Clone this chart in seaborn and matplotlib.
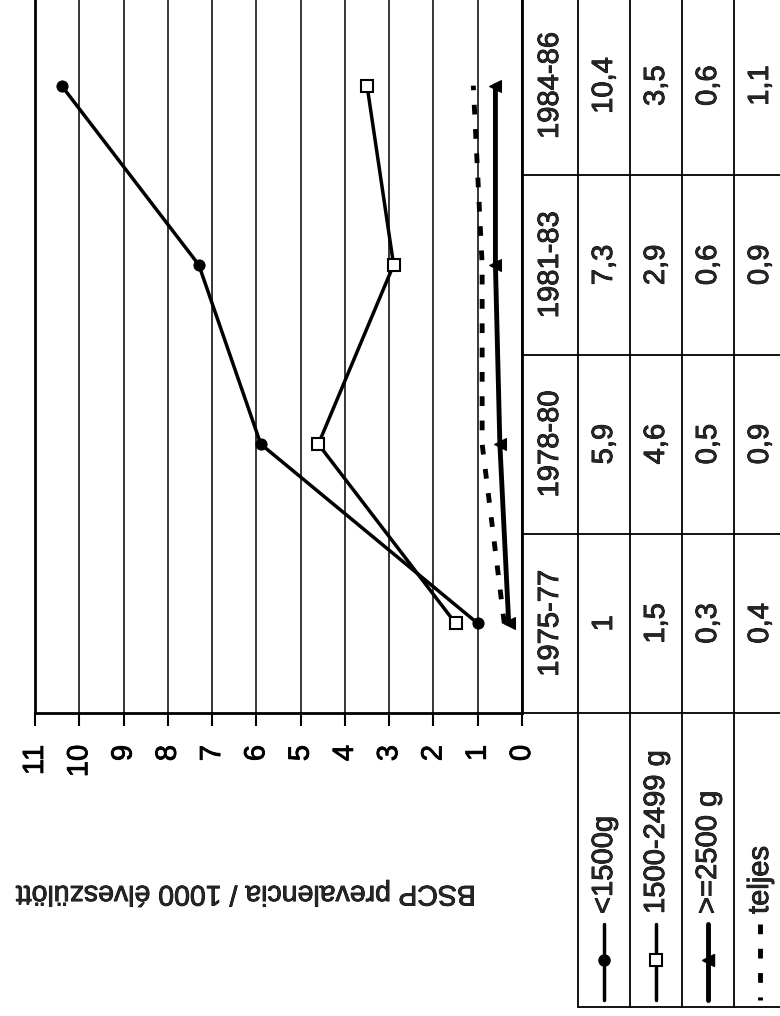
import matplotlib
matplotlib.use('Agg')
import matplotlib.pyplot as plt
import matplotlib.transforms as mtransforms
import matplotlib.patheffects as pe
import numpy as np
import pandas as pd
import seaborn as sns

# Adatok (a kép 90 fokkal elforgatott Excel-diagram)
idoszakok = ['1975-77', '1978-80', '1981-83', '1984-86']
sorozatok = ['<1500g', '1500-2499 g', '>=2500 g', 'teljes']
ertek_1500 = [1.0, 5.9, 7.3, 10.4]
ertek_1500_2499 = [1.5, 4.6, 2.9, 3.5]
ertek_2500 = [0.3, 0.5, 0.6, 0.6]
ertek_teljes = [0.4, 0.9, 0.9, 1.1]
tengely_tickek = list(range(0, 12))
y_cim = 'BSCP prevalencia / 1000 élveszülött'

sns.set_style('white')
plt.rcParams['font.family'] = ['Liberation Sans', 'DejaVu Sans']

# a beszkennelt szöveg kicsit vastagabb
vastag = [pe.withStroke(linewidth=0.6, foreground='black')]

df = pd.DataFrame({
    'Idoszak': idoszakok * 4,
    'Pozicio': list(range(len(idoszakok))) * 4,
    'Sorozat': np.repeat(sorozatok, len(idoszakok)),
    'Ertek': ertek_1500 + ertek_1500_2499 + ertek_2500 + ertek_teljes,
})

stilusok = {
    '<1500g': dict(marker='o', markersize=8, markerfacecolor='black', markeredgecolor='black',
                   linewidth=2.5, linestyle='-'),
    '1500-2499 g': dict(marker='s', markersize=8.5, markerfacecolor='white', markeredgecolor='black',
                        markeredgewidth=1.5, linewidth=2.5, linestyle='-'),
    '>=2500 g': dict(marker='<', markersize=8, markerfacecolor='black', markeredgecolor='black',
                     linewidth=3.5, linestyle='-'),
    'teljes': dict(marker=None, linewidth=3.5, linestyle=(0, (2, 3))),
}

W, H = 780, 1016
fig = plt.figure(figsize=(W / 100, H / 100), dpi=100)

# elrendezés pixelben
bal, jobb, fent, lent = 35, 522, -4, 713
ax = fig.add_axes([bal / W, (H - lent) / H, (jobb - bal) / W, (lent - fent) / H])

for nev in sorozatok:
    d = df[df['Sorozat'] == nev]
    st = stilusok[nev]
    sns.lineplot(data=d, x='Ertek', y='Pozicio', orient='y', color='black', ax=ax,
                 dashes=False, **{k: v for k, v in st.items() if k != 'linestyle'})
    ax.lines[-1].set_linestyle(st['linestyle'])
    if st['linestyle'] != '-':
        ax.lines[-1].set_dash_capstyle('butt')

ax.set_xlim(11, 0)
ax.set_ylim(-0.5, len(idoszakok) - 0.5)
ax.set_xticks(tengely_tickek)
ax.set_xticklabels([str(t) for t in tengely_tickek])
ax.set_yticks([])
ax.set_xlabel('')
ax.set_ylabel('')
ax.grid(axis='x', color='black', linewidth=1.1)
ax.grid(axis='y', visible=False)
for s in ['left', 'right', 'bottom', 'top']:
    ax.spines[s].set_color('black')
    ax.spines[s].set_linewidth(2)
ax.tick_params(axis='x', direction='out', length=9, width=1.5, pad=14,
               labelsize=21, labelrotation=90, bottom=True, colors='black')
for lbl in ax.get_xticklabels():
    lbl.set_path_effects(vastag)
if ax.get_legend():
    ax.get_legend().remove()

# overlay pixel koordinátákban a táblázathoz
ax_t = fig.add_axes([0, 0, 1, 1])
ax_t.set_xlim(0, W)
ax_t.set_ylim(H, 0)
ax_t.axis('off')
ax_t.patch.set_alpha(0)
trans = mtransforms.blended_transform_factory(ax_t.transData, ax.transData)

oszlopok = [522, 578, 630, 682, 734, 786]
vonal = dict(color='black', linewidth=1.3)

# sorhatárok a kategóriák között
for i in range(len(idoszakok) + 1):
    ax_t.plot([oszlopok[0], W], [i - 0.5, i - 0.5], transform=trans, **vonal)
for xo in oszlopok[1:]:
    ax_t.plot([xo, xo], [-0.5, len(idoszakok) - 0.5], transform=trans, **vonal)

ertekek = [ertek_1500, ertek_1500_2499, ertek_2500, ertek_teljes]
for i, idoszak in enumerate(idoszakok):
    kx = (oszlopok[0] + oszlopok[1]) / 2
    ax_t.text(kx, i, idoszak, transform=trans, rotation=90, ha='center', va='center',
              fontsize=21, path_effects=vastag)
    for j, sor in enumerate(ertekek):
        cx = (oszlopok[j + 1] + oszlopok[j + 2]) / 2
        szoveg = f'{sor[i]:g}'.replace('.', ',')
        ax_t.text(cx, i, szoveg, transform=trans, rotation=90, ha='center', va='center',
                  fontsize=21, path_effects=vastag)

# jelmagyarázat cellák
jm_alja = 1007
for xo in oszlopok[1:]:
    ax_t.plot([xo, xo], [lent, jm_alja], **vonal)
ax_t.plot([oszlopok[1], W], [jm_alja, jm_alja], **vonal)
for j, nev in enumerate(sorozatok):
    cx = (oszlopok[j + 1] + oszlopok[j + 2]) / 2
    st = stilusok[nev]
    ax_t.plot([cx, cx], [924, 1000], color='black', linewidth=st['linewidth'],
              linestyle=st['linestyle'], dash_capstyle='butt')
    if st['marker']:
        ax_t.plot([cx], [960], color='black', linestyle='none',
                  **{k: v for k, v in st.items() if k.startswith('marker')})
    ax_t.text(cx, 914, nev, rotation=90, ha='center', va='bottom', fontsize=21,
              path_effects=vastag)

ax_t.text(246, 893, y_cim, rotation=180, ha='center', va='center', fontsize=20.5,
          path_effects=vastag)

fig.savefig('out.png', dpi=100, facecolor='white')
